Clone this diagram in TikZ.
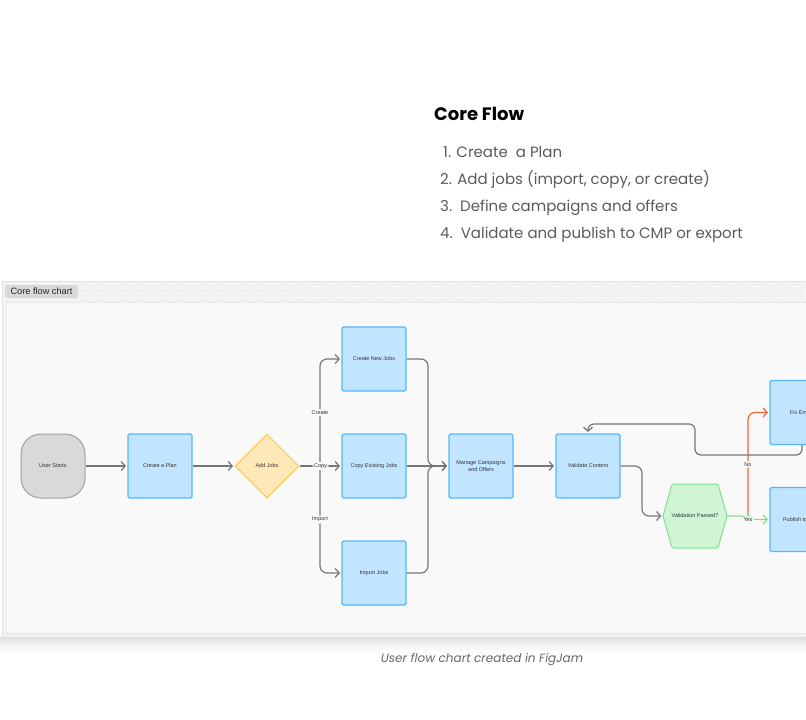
\documentclass[tikz,border=0pt]{standalone}
\usepackage{fontspec}
\setmainfont{Poppins}
\newfontfamily\chartfont{Liberation Sans}
\usetikzlibrary{arrows.meta, shapes.geometric}

\definecolor{jobfill}{HTML}{C2E5FF}
\definecolor{jobline}{HTML}{55B6FF}
\definecolor{startfill}{HTML}{D9D9D9}
\definecolor{startline}{HTML}{A0A0A0}
\definecolor{askfill}{HTML}{FFE8B8}
\definecolor{askline}{HTML}{FFC943}
\definecolor{passfill}{HTML}{CFF5D4}
\definecolor{passline}{HTML}{85DE90}
\definecolor{flowline}{HTML}{777777}
\definecolor{noline}{HTML}{F2643C}
\definecolor{listgray}{HTML}{5A5A5A}
\definecolor{panelfill}{HTML}{F9F9F9}
\definecolor{framefill}{HTML}{F3F3F3}
\definecolor{dotgray}{HTML}{D2D2D2}

\tikzset{
  chart/.style={font=\chartfont\fontsize{5.5}{6.8}\selectfont, text=black!80, align=center},
  jobbox/.style={chart, draw=jobline, fill=jobfill, line width=1.1pt,
    rounded corners=1.5pt, minimum width=64pt, minimum height=64pt},
  startbox/.style={chart, draw=startline, fill=startfill, line width=1pt,
    rounded corners=20pt, minimum width=64pt, minimum height=64pt},
  askbox/.style={chart, diamond, aspect=1, inner sep=0pt, draw=askline,
    fill=askfill, line width=1pt, minimum width=64pt, minimum height=64pt},
  passbox/.style={chart, minimum width=64pt, minimum height=64pt},
  flow/.style={draw=flowline, line width=1.2pt, rounded corners=7pt,
    shorten >=1.5pt, -{Straight Barb[length=4pt, width=9pt]}},
  lbl/.style={chart, fill=panelfill, inner sep=1.5pt},
  item/.style={anchor=base west, inner sep=0pt, font=\fontsize{15}{18}\selectfont, text=listgray}
}

\begin{document}
\begin{tikzpicture}[x=1pt, y=-1pt]
  \useasboundingbox (0,0) rectangle (806,720);
  \clip (0,0) rectangle (806,720);

  % heading and list
  \node[anchor=base west, inner sep=0pt, font=\fontsize{18}{21}\selectfont\bfseries] (title)
    at (434,120.5) {Core Flow};
  \node[item] (item1) at (443,157.5) {1. Create\ \ a Plan};
  \node[item] (item2) at (440,184.5) {2. Add jobs (import, copy, or create)};
  \node[item] (item3) at (440,211.5) {3.\ \ Define campaigns and offers};
  \node[item] (item4) at (440,238.5) {4.\ \ Validate and publish to CMP or export};

  % board
  \shade[top color=black!12, bottom color=white] (0,637) rectangle (806,652);
  \filldraw[fill=framefill, draw=black!12] (2,281) rectangle (815,637);
  \foreach \x in {82,87,...,805}
    \foreach \y in {285,290,295,300}
      \fill[dotgray] (\x,\y) circle (0.5);
  \filldraw[fill=panelfill, draw=black!15, dash pattern=on 1pt off 1pt] (6,302) rectangle (815,633);
  \node[fill=black!15, rounded corners=2.5pt, inner sep=0pt, minimum width=73pt,
    minimum height=13pt, font=\chartfont\fontsize{9.2}{10}\selectfont, text=black!85]
    (tab) at (41.5,291.5) {Core flow chart};

  % nodes
  \node[startbox] (start) at (53,466) {User Starts};
  \node[jobbox] (plan) at (160,466) {Create a Plan};
  \node[askbox] (addjobs) at (267,466) {Add Jobs};
  \node[jobbox] (newjobs) at (374,359) {Create New Jobs};
  \node[jobbox] (copyjobs) at (374,466) {Copy Existing Jobs};
  \node[jobbox] (importjobs) at (374,573) {Import Jobs};
  \node[jobbox] (manage) at (481,466) {Manage Campaigns\\and Offers};
  \node[jobbox] (validate) at (588,466) {Validate Content};
  \filldraw[fill=passfill, draw=passline, line width=1pt, rounded corners=1.5pt]
    (663,516) -- (672,484) -- (718,484) -- (727,516) -- (718,548) -- (672,548) -- cycle;
  \node[passbox] (pass) at (695,516) {Validation Passed?};
  \node[jobbox] (fix) at (802,412.5) {Fix Errors};
  \node[jobbox] (publish) at (802,519.5) {Publish to CMP};

  \coordinate (fork) at (320,466);
  \coordinate (merge) at (428,466);
  \coordinate (split) at (748,516);

  % connectors
  \draw[flow] (start) -- (plan);
  \draw[flow] (plan) -- (addjobs);
  \draw[flow] (fork) |- node[lbl, pos=0.25] {Create} (newjobs.west);
  \draw[flow] (fork) |- node[lbl, pos=0.25] {Import} (importjobs.west);
  \draw[flow] (addjobs) -- node[lbl] {Copy} (copyjobs);
  \draw[flow] (newjobs.east) -| (merge) -- (manage.west);
  \draw[flow] (importjobs.east) -| (merge) -- (manage.west);
  \draw[flow] (copyjobs) -- (manage);
  \draw[flow] (manage) -- (validate);
  \draw[flow] (validate.east) -- (642,466) |- (pass.west);
  \draw[flow, draw=noline] (split) |- node[lbl, pos=0.25] {No} (fix.west);
  \draw[flow, draw=passline] (pass.east) -- (split) |- node[lbl] {Yes} (publish.west);
  \draw[flow, rounded corners=6pt] (fix.south) |- (695,455) -- (695,424) -| (validate.north);

  \node[font=\fontsize{12}{14}\selectfont\itshape, text=black!60] (caption)
    at (482,660) {User flow chart created in FigJam};
\end{tikzpicture}
\end{document}
